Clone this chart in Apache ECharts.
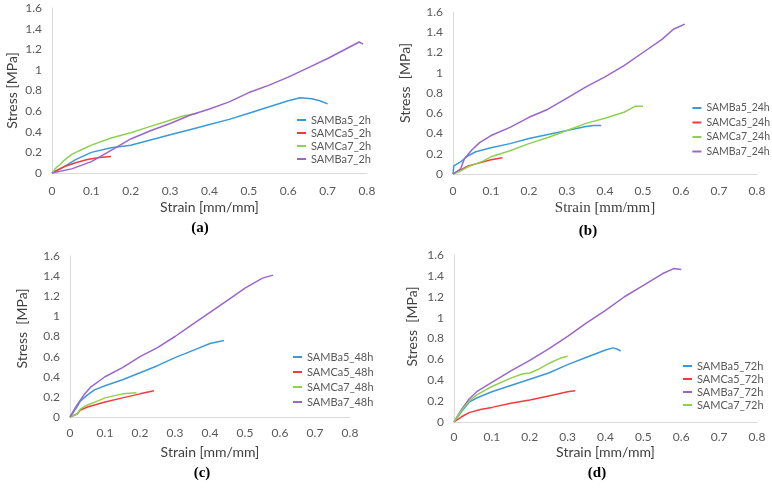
<!DOCTYPE html>
<html>
<head>
<meta charset="utf-8">
<script src="https://cdn.jsdelivr.net/npm/echarts@6/dist/echarts.min.js"></script>
<style>
  html, body { margin: 0; padding: 0; background: #fff; }
  #chart { width: 772px; height: 489px; }
</style>
</head>
<body>
<div id="chart"></div>
<script>
// 轴刻度
var strainTicks = [0, 0.8, 0.1];
var stressTicks = [0, 1.6, 0.2];

// (a) 2h
var a_Ba5 = [[0,0],[0.03,0.06],[0.06,0.13],[0.1,0.2],[0.15,0.245],[0.2,0.27],[0.25,0.32],[0.3,0.37],[0.35,0.42],[0.4,0.47],[0.45,0.52],[0.5,0.58],[0.55,0.64],[0.6,0.7],[0.63,0.73],[0.66,0.72],[0.68,0.7],[0.7,0.67]];
var a_Ca5 = [[0,0],[0.03,0.06],[0.06,0.1],[0.09,0.13],[0.12,0.15],[0.15,0.16]];
var a_Ca7 = [[0,0],[0.01,0.05],[0.02,0.08],[0.03,0.12],[0.05,0.18],[0.08,0.235],[0.1,0.27],[0.15,0.34],[0.2,0.39],[0.24,0.44],[0.29,0.5],[0.33,0.55],[0.37,0.58]];
var a_Ba7 = [[0,0],[0.05,0.04],[0.1,0.11],[0.15,0.22],[0.2,0.33],[0.25,0.41],[0.3,0.48],[0.35,0.56],[0.4,0.62],[0.45,0.69],[0.5,0.78],[0.55,0.85],[0.6,0.93],[0.65,1.02],[0.7,1.11],[0.75,1.21],[0.78,1.27],[0.79,1.25]];

// (b) 24h
var b_Ba5 = [[0,0],[0.002,0.08],[0.02,0.12],[0.04,0.18],[0.06,0.22],[0.1,0.26],[0.15,0.3],[0.2,0.35],[0.25,0.39],[0.3,0.43],[0.35,0.47],[0.37,0.48],[0.39,0.48]];
var b_Ca5 = [[0,0],[0.02,0.04],[0.04,0.08],[0.07,0.11],[0.1,0.14],[0.13,0.16]];
var b_Ca7 = [[0,0],[0.02,0.03],[0.04,0.07],[0.08,0.13],[0.1,0.17],[0.15,0.23],[0.2,0.3],[0.25,0.36],[0.3,0.43],[0.35,0.5],[0.4,0.55],[0.45,0.61],[0.48,0.67],[0.5,0.67]];
var b_Ba7 = [[0,0],[0.02,0.05],[0.03,0.15],[0.05,0.24],[0.07,0.31],[0.1,0.38],[0.15,0.46],[0.2,0.56],[0.25,0.64],[0.3,0.75],[0.35,0.86],[0.4,0.96],[0.45,1.07],[0.5,1.2],[0.55,1.33],[0.58,1.43],[0.61,1.48]];

// (c) 48h
var c_Ba5 = [[0,0],[0.02,0.1],[0.03,0.16],[0.05,0.22],[0.07,0.27],[0.1,0.31],[0.15,0.37],[0.2,0.44],[0.25,0.51],[0.3,0.59],[0.35,0.66],[0.4,0.73],[0.44,0.76]];
var c_Ca5 = [[0,0],[0.02,0.03],[0.03,0.07],[0.05,0.1],[0.1,0.15],[0.15,0.19],[0.2,0.23],[0.24,0.26]];
var c_Ca7 = [[0,0],[0.02,0.03],[0.03,0.08],[0.05,0.12],[0.08,0.16],[0.1,0.19],[0.15,0.23],[0.19,0.24]];
var c_Ba7 = [[0,0],[0.02,0.12],[0.04,0.22],[0.06,0.3],[0.1,0.4],[0.15,0.49],[0.2,0.6],[0.25,0.69],[0.3,0.8],[0.35,0.92],[0.4,1.04],[0.45,1.16],[0.5,1.28],[0.55,1.38],[0.58,1.41]];

// (d) 72h
var d_Ba5 = [[0,0],[0.02,0.1],[0.04,0.19],[0.06,0.23],[0.1,0.29],[0.15,0.35],[0.2,0.41],[0.25,0.47],[0.3,0.55],[0.35,0.62],[0.4,0.69],[0.42,0.71],[0.43,0.7],[0.44,0.68]];
var d_Ca5 = [[0,0],[0.02,0.05],[0.04,0.09],[0.07,0.12],[0.1,0.14],[0.15,0.18],[0.2,0.21],[0.25,0.25],[0.3,0.29],[0.32,0.3]];
var d_Ba7 = [[0,0],[0.02,0.12],[0.04,0.22],[0.06,0.29],[0.1,0.38],[0.15,0.49],[0.2,0.59],[0.25,0.7],[0.3,0.82],[0.35,0.95],[0.4,1.07],[0.45,1.2],[0.5,1.31],[0.55,1.42],[0.58,1.47],[0.6,1.46]];
var d_Ca7 = [[0,0],[0.02,0.11],[0.04,0.2],[0.06,0.26],[0.1,0.34],[0.15,0.42],[0.18,0.46],[0.2,0.47],[0.22,0.5],[0.25,0.56],[0.28,0.61],[0.3,0.63]];

var BLUE = '#3a9ad9', RED = '#f03c3c', GREEN = '#8fd14f', PURPLE = '#9a66cc';
var FONT = 'Lato';

// 四个子图的布局
var panels = [
  { key: 'a', grid: { left: 52, top: 8, width: 315, height: 165 }, lm: 12, ng: 27, yg: 33, yPad: 0, xFont: FONT,
    legend: { left: 297, top: 114, gap: 1, size: 11 }, tag: [195, 216],
    series: [['SAMBa5_2h', a_Ba5, BLUE], ['SAMCa5_2h', a_Ca5, RED], ['SAMCa7_2h', a_Ca7, GREEN], ['SAMBa7_2h', a_Ba7, PURPLE]] },
  { key: 'b', grid: { left: 453, top: 12, width: 304, height: 162 }, lm: 11, ng: 27, yg: 41, yPad: 20, xFont: 'Liberation Serif',
    legend: { right: 2, top: 102, gap: 2.5, size: 10.5 }, tag: [583, 219],
    series: [['SAMBa5_24h', b_Ba5, BLUE], ['SAMCa5_24h', b_Ca5, RED], ['SAMCa7_24h', b_Ca7, GREEN], ['SAMBa7_24h', b_Ba7, PURPLE]] },
  { key: 'c', grid: { left: 70, top: 256, width: 280, height: 161 }, lm: 10, ng: 28, yg: 41, yPad: 16, xFont: FONT,
    legend: { left: 293, top: 351, gap: 3, size: 11 }, tag: [197, 461],
    series: [['SAMBa5_48h', c_Ba5, BLUE], ['SAMCa5_48h', c_Ca5, RED], ['SAMCa7_48h', c_Ca7, GREEN], ['SAMBa7_48h', c_Ba7, PURPLE]] },
  { key: 'd', grid: { left: 454, top: 255, width: 303, height: 167 }, lm: 9, ng: 23, yg: 35, yPad: 24, xFont: FONT,
    legend: { left: 683, top: 360, gap: 1, size: 11 }, tag: [592, 461],
    series: [['SAMBa5_72h', d_Ba5, BLUE], ['SAMCa5_72h', d_Ca5, RED], ['SAMBa7_72h', d_Ba7, PURPLE], ['SAMCa7_72h', d_Ca7, GREEN]] }
];

var option = {
  backgroundColor: '#fff',
  animation: false,
  grid: [], xAxis: [], yAxis: [], series: [], legend: [], title: []
};

panels.forEach(function (p, i) {
  option.grid.push(p.grid);
  option.xAxis.push({
    type: 'value', gridIndex: i,
    min: strainTicks[0], max: strainTicks[1], interval: strainTicks[2],
    name: 'Strain [mm/mm]', nameLocation: 'middle', nameGap: p.ng,
    nameTextStyle: { fontFamily: p.xFont, fontSize: p.key === 'b' ? 15 : 14, color: '#404040' },
    axisLine: { lineStyle: { color: '#d9d9d9', width: 1 } },
    axisTick: { show: false },
    splitLine: { show: false },
    axisLabel: { margin: p.lm, fontFamily: FONT, fontSize: 12, color: '#595959' }
  });
  option.yAxis.push({
    type: 'value', gridIndex: i,
    min: stressTicks[0], max: stressTicks[1], interval: stressTicks[2],
    name: p.key === 'a' ? 'Stress [MPa]' : 'Stress  [MPa]', nameLocation: 'middle', nameGap: p.yg,
    nameTextStyle: { fontFamily: FONT, fontSize: 14, color: '#404040', padding: [0, 0, 0, p.yPad] },
    axisLine: { show: true, lineStyle: { color: '#d9d9d9', width: 1 } },
    axisTick: { show: false },
    splitLine: { show: false },
    axisLabel: { margin: 10, fontFamily: FONT, fontSize: 12, color: '#595959' }
  });
  var names = [];
  p.series.forEach(function (s) {
    names.push(s[0]);
    option.series.push({
      type: 'line', name: s[0], data: s[1],
      xAxisIndex: i, yAxisIndex: i,
      showSymbol: false, smooth: false,
      lineStyle: { color: s[2], width: 1.5 },
      itemStyle: { color: s[2] }
    });
  });
  var lg = {
    data: names, orient: 'vertical',
    top: p.legend.top, padding: 0,
    icon: 'rect', itemWidth: 9, itemHeight: 2, itemGap: p.legend.gap,
    textStyle: { fontFamily: FONT, fontSize: p.legend.size, color: '#595959', lineHeight: 12 }
  };
  if (p.legend.right !== undefined) lg.right = p.legend.right; else lg.left = p.legend.left;
  option.legend.push(lg);
  option.title.push({
    text: '{p|(}{b|' + p.key + '}{p|)}',
    left: p.tag[0], top: p.tag[1], textAlign: 'center',
    textStyle: {
      rich: {
        p: { fontFamily: 'Liberation Serif', fontSize: 15, color: '#000' },
        b: { fontFamily: 'Liberation Serif', fontSize: 15, fontWeight: 'bold', color: '#000' }
      }
    }
  });
});

var chart = echarts.init(document.getElementById('chart'));
chart.setOption(option);
</script>
</body>
</html>
